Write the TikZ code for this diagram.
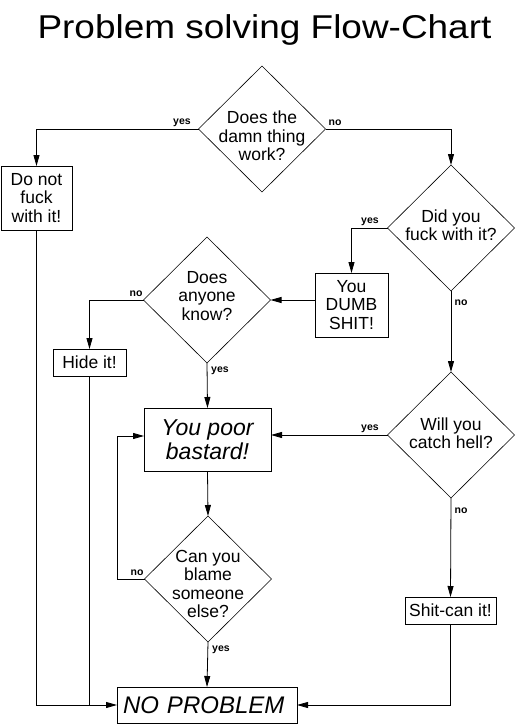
\documentclass[tikz,border=0pt]{standalone}
\usepackage{fontspec}
\usepackage{graphicx}
\setmainfont{Liberation Sans}
\usetikzlibrary{shapes.geometric,arrows.meta}
\begin{document}
\begin{tikzpicture}[x=1pt,y=-1pt,
  every node/.style={inner sep=0pt, outer sep=0pt},
  dia/.style={draw, shape=diamond, minimum width=127pt, minimum height=126pt, line width=0.6pt},
  box/.style={draw, rectangle, line width=0.8pt, align=center, font=\fontsize{17.5}{18.5}\selectfont},
  txt/.style={align=center, font=\fontsize{17.5}{18.5}\selectfont},
  lab/.style={font=\fontsize{10.5}{12}\selectfont\bfseries},
  arr/.style={-{Triangle[length=11pt,width=6pt]}, line width=0.8pt},
  ln/.style={line width=0.8pt}]
\useasboundingbox (0,0) rectangle (524,725);

% title
\node[anchor=base, font=\fontsize{33}{33}\selectfont] (title) at (264.5,39) {\scalebox{1.12}[1]{Problem solving Flow-Chart}};

% diamonds
\node[dia] (d1) at (262,129) {};
\node[txt] (d1t) at (262,136) {Does the\\damn thing\\work?};
\node[dia] (d2) at (451,228) {};
\node[txt] (d2t) at (451,225) {Did you\\fuck with it?};
\node[dia] (d3) at (207,300) {};
\node[txt] (d3t) at (207,296) {Does\\anyone\\know?};
\node[dia] (d4) at (451,435) {};
\node[txt] (d4t) at (451,433) {Will you\\catch hell?};
\node[dia] (d5) at (208,579) {};
\node[txt] (d5t) at (208,584) {Can you\\blame\\someone\\else?};

% boxes
\node[box, minimum width=71pt, minimum height=64pt] (b1) at (36.5,198) {Do not\\fuck\\with it!};
\node[box, minimum width=73pt, minimum height=64pt] (b2) at (351.5,305) {You\\DUMB\\SHIT!};
\node[box, minimum width=73pt, minimum height=27pt] (b3) at (89.5,362.5) {Hide it!};
\node[box, minimum width=127pt, minimum height=63pt, font=\fontsize{23}{24.5}\selectfont\itshape] (b4) at (207.5,439.5) {You poor\\bastard!};
\node[box, minimum width=91pt, minimum height=27pt] (b5) at (450.5,610.5) {Shit-can it!};
\node[box, inner xsep=6pt, text width=168pt, align=left, minimum height=36pt, font=\fontsize{24}{26}\selectfont\itshape] (b6) at (207,705) {NO PROBLEM};

% connectors
\draw[arr] (d1.west) -| (b1.north);
\draw[arr] (d1.east) -| (d2.north);
\draw[arr] (d2.west) -| (b2.north);
\draw[arr] (d2.south) -- (d4.north);
\draw[arr] (d3.east -| b2.west) -- (d3.east);
\draw[arr] (d3.west) -| (b3.north);
\draw[arr] (d3.south) -- (b4.north);
\draw[arr] (d4.west) -- (d4.west -| b4.east);
\draw[arr] (b4.south) -- (d5.north);
\coordinate (loop) at (117,436);
\draw[arr] (d5.west) -| (loop) -- (loop -| b4.west);
\draw[arr] (d5.south) -- (b6.north);
\draw[arr] (d4.south) -- (b5.north);
\draw[arr] (b5.south) |- (b6.east);
\draw[arr] (b1.south) |- (b6.west);
\draw[ln] (b3.south) -- (b3.south |- b6.west);

% labels
\node[lab] (l1) at (182,123) {yes};
\node[lab] (l2) at (335,123) {no};
\node[lab] (l3) at (370,222) {yes};
\node[lab] (l4) at (461,303) {no};
\node[lab] (l5) at (136,294) {no};
\node[lab] (l6) at (220,371) {yes};
\node[lab] (l7) at (370,429) {yes};
\node[lab] (l8) at (461,511) {no};
\node[lab] (l9) at (137,573) {no};
\node[lab] (l10) at (221,650) {yes};
\end{tikzpicture}
\end{document}
